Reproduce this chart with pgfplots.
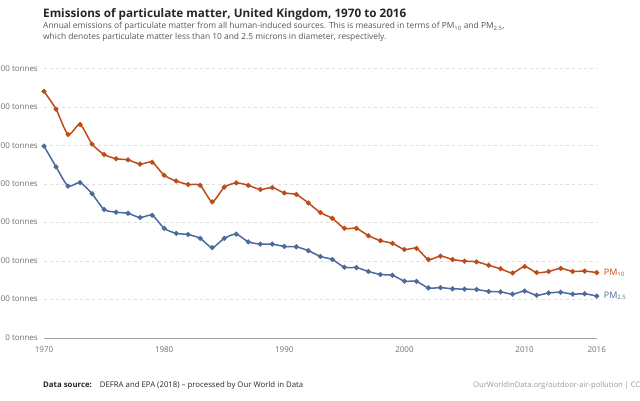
\documentclass[border=0pt]{standalone}
\usepackage{pgfplots}
\pgfplotsset{compat=1.18}
\usepackage{fontspec}
\setmainfont{Open Sans}
\definecolor{pmten}{HTML}{BD4C1C}
\definecolor{pmtwo}{HTML}{4C6A9C}
\definecolor{gridc}{HTML}{DDDDDD}
\definecolor{tickc}{HTML}{6E6E6E}
\definecolor{subc}{HTML}{555555}
\begin{document}
\begin{tikzpicture}[x=1pt,y=1pt]
\path[use as bounding box] (0,0) rectangle (640,400);
\begin{axis}[
  at={(44pt,62pt)}, anchor=south west,
  scale only axis, width=552.7pt, height=269.3pt,
  xmin=1970, xmax=2016, ymin=0, ymax=700000,
  axis line style={draw=none},
  clip=false,
  scaled y ticks=false,
  ytick={0,100000,200000,300000,400000,500000,600000,700000},
  yticklabels={0 tonnes,{100,000 tonnes},{200,000 tonnes},{300,000 tonnes},{400,000 tonnes},{500,000 tonnes},{600,000 tonnes},{700,000 tonnes}},
  xtick={1970,1980,1990,2000,2010,2016},
  xticklabels={1970,1980,1990,2000,2010,2016},
  major tick length=0pt,
  tick style={draw=none},
  ymajorgrids,
  grid style={gridc, line width=0.8pt, dash pattern=on 3pt off 3pt},
  yticklabel style={font=\fontsize{8}{9}\selectfont, text=tickc, anchor=east, inner sep=0pt, xshift=-6pt},
  xticklabel style={font=\fontsize{8}{9}\selectfont, text=tickc, anchor=north, inner sep=0pt, yshift=-8pt},
]
\draw[color=gray!70, line width=0.8pt] (axis cs:1970,0) -- (axis cs:2016,0);
\addplot[pmtwo, line width=1.5pt, smooth, tension=0.4, mark=*, mark size=1.7pt, mark options={solid}] coordinates {
(1970,499000)(1971,445000)(1972,395000)(1973,404000)(1974,375000)(1975,334000)(1976,327000)(1977,324000)(1978,313000)(1979,319000)
(1980,285000)(1981,272000)(1982,269000)(1983,259000)(1984,235000)(1985,259000)(1986,270000)(1987,250000)(1988,244000)(1989,244000)
(1990,238000)(1991,237000)(1992,227000)(1993,212000)(1994,204000)(1995,184000)(1996,183000)(1997,173000)(1998,165000)(1999,163000)
(2000,148000)(2001,147000)(2002,130000)(2003,131000)(2004,128000)(2005,127000)(2006,126000)(2007,121000)(2008,120000)(2009,114000)
(2010,122000)(2011,111000)(2012,117000)(2013,119000)(2014,114000)(2015,115000)(2016,109000)};
\addplot[pmten, line width=1.5pt, smooth, tension=0.4, mark=*, mark size=1.7pt, mark options={solid}] coordinates {
(1970,641000)(1971,595000)(1972,529000)(1973,555000)(1974,504000)(1975,477000)(1976,466000)(1977,463000)(1978,452000)(1979,457000)
(1980,423000)(1981,408000)(1982,399000)(1983,397000)(1984,354000)(1985,392000)(1986,403000)(1987,397000)(1988,386000)(1989,391000)
(1990,377000)(1991,373000)(1992,351000)(1993,326000)(1994,311000)(1995,285000)(1996,285000)(1997,266000)(1998,253000)(1999,246000)
(2000,230000)(2001,233000)(2002,204000)(2003,213000)(2004,204000)(2005,200000)(2006,198000)(2007,189000)(2008,180000)(2009,169000)
(2010,186000)(2011,170000)(2012,173000)(2013,181000)(2014,173000)(2015,174000)(2016,170000)};
\node[anchor=west, text=pmten, inner sep=0pt, font=\fontsize{9}{10}\selectfont] at (axis cs:2016,170000) [xshift=7pt] {PM\textsubscript{10}};
\node[anchor=west, text=pmtwo, inner sep=0pt, font=\fontsize{9}{10}\selectfont] at (axis cs:2016,109000) [xshift=7pt] {PM\textsubscript{2.5}};
\end{axis}
\node[anchor=base west, inner sep=0pt, font=\fontsize{11.7}{14}\selectfont\bfseries, text=black!85] at (43,382.7) {Emissions of particulate matter, United Kingdom, 1970 to 2016};
\node[anchor=base west, inner sep=0pt, font=\fontsize{8.4}{10}\selectfont, text=subc] at (43,371.5) {Annual emissions of particulate matter from all human-induced sources. This is measured in terms of PM\textsubscript{10} and PM\textsubscript{2.5},};
\node[anchor=base west, inner sep=0pt, font=\fontsize{8.4}{10}\selectfont, text=subc] at (43,360) {which denotes particulate matter less than 10 and 2.5 microns in diameter, respectively.};
\node[anchor=base west, inner sep=0pt, font=\fontsize{7.8}{10}\selectfont, text=black!85] at (43,13) {\textbf{Data source:}\hspace{8pt}DEFRA and EPA (2018) – processed by Our World in Data};
\node[anchor=base west, inner sep=0pt, font=\fontsize{7.6}{10}\selectfont, text=gray!80] at (473,13) {OurWorldInData.org/outdoor-air-pollution | CC BY};
\end{tikzpicture}
\end{document}
